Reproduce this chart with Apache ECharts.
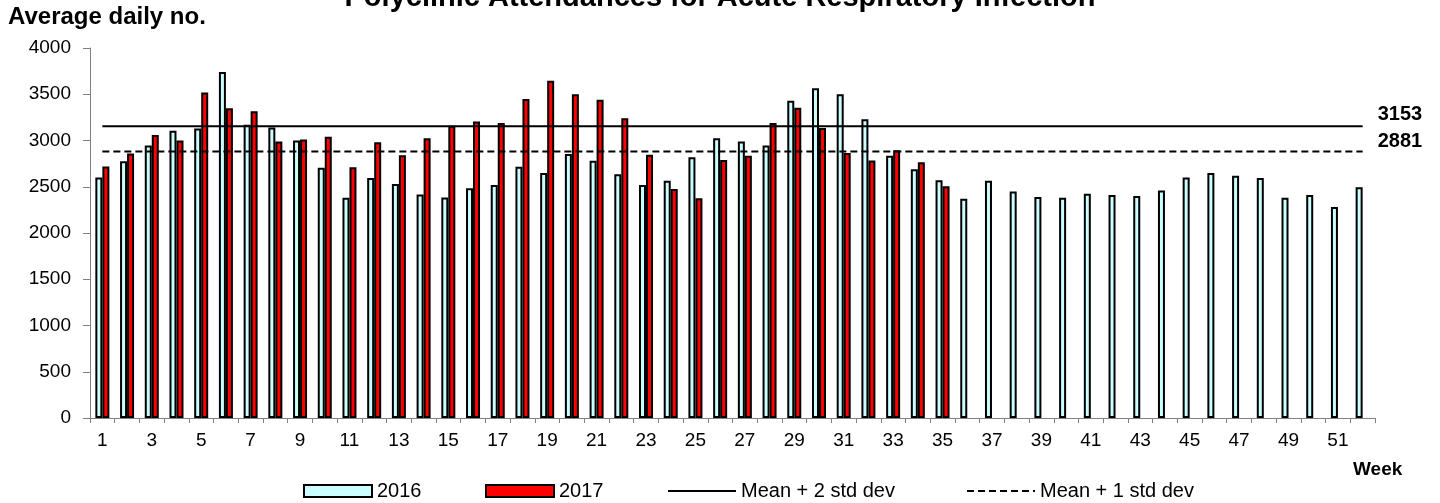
<!DOCTYPE html>
<html>
<head>
<meta charset="utf-8">
<script src="https://cdn.jsdelivr.net/npm/echarts@6/dist/echarts.min.js"></script>
<style>
    html, body { margin: 0; padding: 0; background: #fff; }
    #main { width: 1440px; height: 503px; }
</style>
</head>
<body>
<div id="main"></div>
<script>
// weeks on the x axis
const weeks = ['1','2','3','4','5','6','7','8','9','10','11','12','13','14','15','16','17','18','19','20',
    '21','22','23','24','25','26','27','28','29','30','31','32','33','34','35','36','37','38','39','40',
    '41','42','43','44','45','46','47','48','49','50','51','52'];

// average daily attendances, 2016 (full year)
const attend2016 = [2600, 2775, 2945, 3105, 3130, 3740, 3170, 3140, 3000, 2705,
    2380, 2595, 2530, 2415, 2385, 2485, 2520, 2715, 2650, 2855,
    2780, 2635, 2520, 2565, 2820, 3025, 2990, 2945, 3430, 3565,
    3500, 3230, 2835, 2690, 2570, 2370, 2565, 2450, 2390, 2380,
    2425, 2410, 2400, 2460, 2600, 2650, 2620, 2595, 2380, 2410,
    2280, 2495];

// 2017 (up to week 35)
const attend2017 = [2720, 2860, 3060, 3000, 3520, 3350, 3315, 2990, 3010, 3040,
    2710, 2980, 2840, 3025, 3160, 3205, 3190, 3450, 3645, 3500,
    3440, 3240, 2845, 2475, 2375, 2790, 2835, 3190, 3355, 3135,
    2865, 2785, 2895, 2765, 2505];

// thresholds
const mean2sd = 3153;
const mean1sd = 2881;

const yTicks = { min: 0, max: 4000, interval: 500 };

let chart = echarts.init(document.getElementById('main'));

const font = "'Liberation Sans', Arial, sans-serif";

chart.setOption({
    animation: false,
    textStyle: { fontFamily: font, color: '#000' },
    title: [
        {
            text: 'Polyclinic Attendances for Acute Respiratory Infection',
            left: 'center',
            top: -17,
            padding: 0,
            textStyle: { fontSize: 29, fontWeight: 'bold', color: '#000', fontFamily: font }
        },
        {
            text: 'Average daily no.',
            left: 8,
            top: 5,
            padding: 0,
            textStyle: { fontSize: 24, fontWeight: 'bold', color: '#000', fontFamily: font }
        },
        {
            text: 'Week',
            left: 1353,
            top: 460,
            padding: 0,
            textStyle: { fontSize: 19, fontWeight: 'bold', color: '#000', fontFamily: font }
        }
    ],
    grid: {
        left: 90,
        right: 65,
        top: 48,
        bottom: 85
    },
    legend: [
        { data: [{ name: '2016', icon: 'rect' }], left: 303 },
        { data: [{ name: '2017', icon: 'rect' }], left: 485 },
        { data: ['Mean + 2 std dev'], left: 667, itemStyle: { opacity: 0 } },
        { data: ['Mean + 1 std dev'], left: 966, itemStyle: { opacity: 0 } }
    ].map(l => Object.assign({
        top: 481,
        padding: 0,
        itemWidth: 68,
        itemHeight: 12,
        textStyle: { fontSize: 20, color: '#000', fontFamily: font }
    }, l)),
    xAxis: {
        type: 'category',
        data: weeks,
        axisLine: { lineStyle: { color: '#808080', width: 1 } },
        axisTick: { show: true, interval: 0, length: 5, lineStyle: { color: '#808080' } },
        axisLabel: { interval: 1, fontSize: 19, color: '#000', margin: 13 },
        splitLine: { show: false }
    },
    yAxis: {
        type: 'value',
        min: yTicks.min,
        max: yTicks.max,
        interval: yTicks.interval,
        axisLine: { show: true, lineStyle: { color: '#808080', width: 1 } },
        axisTick: { show: true, length: 7, lineStyle: { color: '#808080' } },
        axisLabel: { fontSize: 19, color: '#000', margin: 19, formatter: v => String(v) },
        splitLine: { show: false }
    },
    series: [
        {
            name: '2016',
            type: 'bar',
            data: attend2016,
            barWidth: 7,
            barGap: '0%',
            itemStyle: { color: '#CCFFFF', borderColor: '#000', borderWidth: 2 }
        },
        {
            name: '2017',
            type: 'bar',
            data: attend2017,
            barWidth: 7,
            itemStyle: { color: '#FF0000', borderColor: '#000', borderWidth: 2 }
        },
        {
            name: 'Mean + 2 std dev',
            type: 'line',
            data: weeks.map(() => mean2sd),
            symbol: 'none',
            lineStyle: { color: '#000', width: 2, type: 'solid' },
            itemStyle: { color: '#000' },
            endLabel: {
                show: true,
                formatter: String(mean2sd),
                distance: 15,
                offset: [0, -12],
                fontSize: 20,
                fontWeight: 'bold',
                color: '#000'
            }
        },
        {
            name: 'Mean + 1 std dev',
            type: 'line',
            data: weeks.map(() => mean1sd),
            symbol: 'none',
            lineStyle: { color: '#000', width: 2, type: [7, 4] },
            itemStyle: { color: '#000' },
            endLabel: {
                show: true,
                formatter: String(mean1sd),
                distance: 15,
                offset: [0, -10],
                fontSize: 20,
                fontWeight: 'bold',
                color: '#000'
            }
        }
    ]
});
</script>
</body>
</html>
